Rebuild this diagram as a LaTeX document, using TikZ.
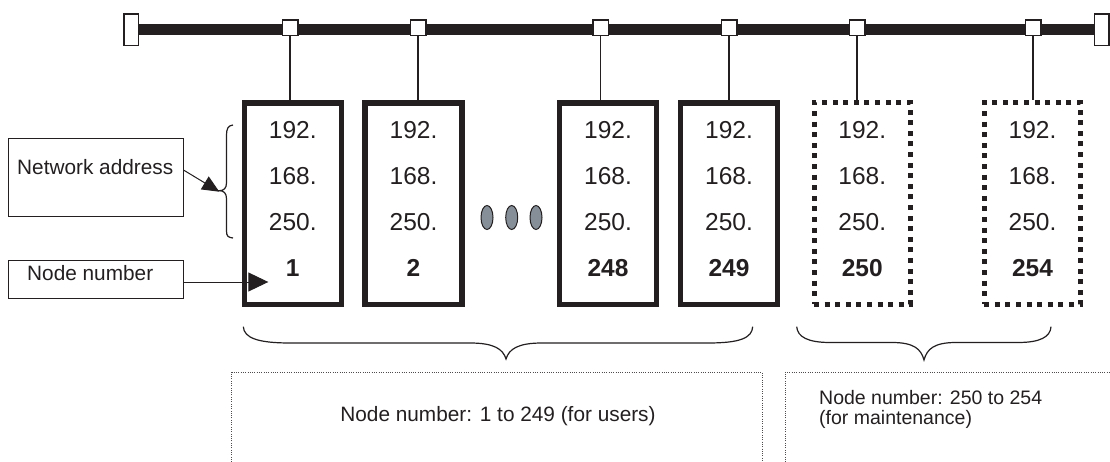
\documentclass[tikz,border=0pt]{standalone}
\usepackage{fontspec}
\setmainfont{Liberation Sans}
\usetikzlibrary{arrows.meta,shapes.geometric}
\definecolor{ink}{HTML}{231F20}
\definecolor{dotgray}{HTML}{868F98}
\begin{document}
\begin{tikzpicture}[x=1pt,y=1pt,
  endcap/.style={rectangle, draw=ink, fill=white, line width=1.5pt, minimum width=14.5pt, minimum height=31.5pt, inner sep=0pt},
  tap/.style={rectangle, draw=ink, fill=white, line width=1.5pt, minimum width=15.5pt, minimum height=15.5pt, inner sep=0pt},
  drop/.style={draw=ink, line width=1.6pt},
  hostbox/.style={rectangle, draw=ink, line width=5.5pt, minimum width=97pt, minimum height=201.5pt, inner sep=0pt},
  maintbox/.style={rectangle, draw=ink, line width=5pt, dash pattern=on 5pt off 5.6pt, minimum width=96.5pt, minimum height=201.5pt, inner sep=0pt},
  addr/.style={align=center, inner sep=0pt, font=\fontsize{24.5}{46}\selectfont, text=ink},
  labelbox/.style={rectangle, draw=ink, line width=1pt, minimum width=175pt, inner sep=0pt},
  labeltext/.style={anchor=west, inner sep=0pt, font=\fontsize{20.8}{22}\selectfont, text=ink},
  ellipsis/.style={ellipse, draw=ink, fill=dotgray, line width=1pt, minimum width=12pt, minimum height=24pt, inner sep=0pt},
  brace/.style={draw=ink, line width=1.2pt},
  ptr/.style={draw=ink, line width=1pt},
  note/.style={draw=ink!80, line width=0.8pt, dash pattern=on 0.9pt off 1.4pt}
]
\useasboundingbox (0,0) rectangle (1110,-462);

% bus
\coordinate (busL) at (139,-29.5);
\coordinate (busR) at (1094,-29.5);
\draw[ink, line width=11pt] (busL) -- (busR);
\node[endcap] (capL) at (131,-29.7) {};
\node[endcap] (capR) at (1101.5,-29.7) {};

% taps
\foreach \n/\x in {1/290, 2/418, 3/600.5, 4/729, 5/857, 6/1033}
  \node[tap] (t\n) at (\x,-27.7) {};

% host boxes
\node[hostbox] (m1) at (292.8,-203.75) {};
\node[hostbox] (m2) at (413.5,-203.75) {};
\node[hostbox] (m3) at (608,-203.75) {};
\node[hostbox] (m4) at (729,-203.75) {};
\node[maintbox] (m5) at (862.25,-203.5) {};
\node[maintbox] (m6) at (1032.5,-203.5) {};

\node[addr] (a1) at (292.8,-199) {192.\\168.\\250.\\\textbf{1}};
\node[addr] (a2) at (413.5,-199) {192.\\168.\\250.\\\textbf{2}};
\node[addr] (a3) at (608,-199) {192.\\168.\\250.\\\textbf{248}};
\node[addr] (a4) at (729,-199) {192.\\168.\\250.\\\textbf{249}};
\node[addr] (a5) at (862.25,-199) {192.\\168.\\250.\\\textbf{250}};
\node[addr] (a6) at (1032.5,-199) {192.\\168.\\250.\\\textbf{254}};

% drops
\foreach \n in {1,...,6}
  \draw[drop] (t\n.south) -- (t\n.south |- m\n.north);

% ellipsis
\node[ellipsis] (e1) at (487,-217.5) {};
\node[ellipsis] (e2) at (511.7,-217.5) {};
\node[ellipsis] (e3) at (536,-217.5) {};

% left labels
\node[labelbox, minimum height=77.7pt] (netbox) at (95.8,-177.2) {};
\node[labeltext] (nettext) at (17,-166.7) {Network address};
\node[labelbox, minimum height=38pt] (numbox) at (95.8,-279) {};
\node[labeltext] (numtext) at (27,-273.3) {Node number};

% left brace
\draw[brace] (233,-125) .. controls (228,-125.5) and (226.5,-129) .. (226.5,-135)
  -- (226.5,-183) .. controls (226.5,-188.5) and (223.5,-190.7) .. (219.3,-190.7)
  .. controls (223.5,-190.7) and (226.5,-193) .. (226.5,-198.5)
  -- (226.5,-231) .. controls (226.5,-236) and (228,-237.5) .. (233,-238);

\coordinate (natip) at (219.3,-191.7);
\coordinate (nntip) at (268.3,-282);
\draw[ptr, -{Triangle[length=17pt,width=15pt]}] ([yshift=7pt]netbox.east) -- (natip);
\draw[ptr, -{Triangle[length=20pt,width=19pt]}] ([yshift=-3pt]numbox.east) -- (nntip);

% bottom braces
\draw[brace] (243.3,-326.7) .. controls (244,-338) and (258,-343) .. (290,-343)
  -- (470,-343) .. controls (494,-343) and (503,-349) .. (506,-359)
  .. controls (509,-349) and (518,-343) .. (542,-343)
  -- (708,-343) .. controls (740,-343) and (752,-338) .. (752.7,-326.7);
\draw[brace] (796.7,-326.7) .. controls (797.5,-337) and (808,-342.5) .. (830,-342.5)
  -- (892,-342.5) .. controls (914,-342.5) and (921,-349) .. (924,-360)
  .. controls (927,-349) and (934,-342.5) .. (956,-342.5)
  -- (1018,-342.5) .. controls (1040,-342.5) and (1050.3,-337) .. (1051,-326.7);

% note boxes
\draw[note] (231.7,-462) -- (231.7,-372) -- (762,-372) -- (762,-462);
\draw[note] (785,-462) -- (785,-372) -- (1110,-372);
\node[inner sep=0pt, font=\fontsize{20.8}{22}\selectfont, text=ink] (users) at (498,-416) {Node number: 1 to 249 (for users)};
\node[anchor=west, inner sep=0pt, align=left, font=\fontsize{19.5}{20}\selectfont, text=ink] (maint) at (819,-409) {Node number: 250 to 254\\(for maintenance)};
\end{tikzpicture}
\end{document}
